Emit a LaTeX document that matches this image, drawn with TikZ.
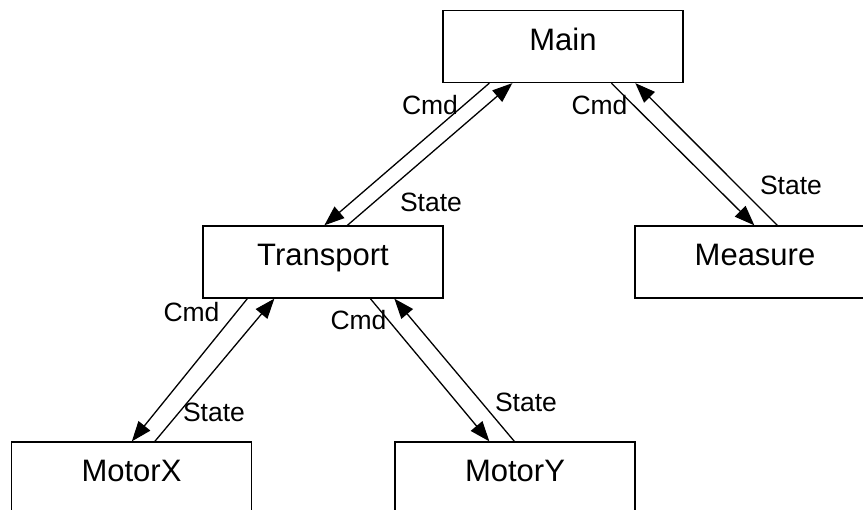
\documentclass[tikz,border=0pt]{standalone}
\usepackage{fontspec}
\setmainfont{Liberation Sans}
\usetikzlibrary{arrows.meta}
\begin{document}
\begin{tikzpicture}[x=1pt,y=-1pt,
  box/.style={draw,line width=1.3pt,rectangle,minimum width=240pt,minimum height=72pt,
    inner sep=0pt,text height=22pt,text depth=14pt,font=\fontsize{31}{31}\selectfont},
  lbl/.style={anchor=base,inner sep=0pt,font=\fontsize{26.5}{26.5}\selectfont},
  conn/.style={line width=1.3pt,-{Triangle[length=20pt,width=15pt]}}]
\useasboundingbox (0,0) rectangle (863,510);
\node[box] (main) at (563,46.5) {Main};
\node[box] (transport) at (323,262) {Transport};
\node[box] (measure) at (755,262) {Measure};
\node[box] (motorx) at (131.5,478) {MotorX};
\node[box] (motory) at (515,478) {MotorY};
% Main - Transport
\draw[conn] ([xshift=47pt]main.south west) -- ([xshift=122pt]transport.north west);
\draw[conn] ([xshift=145pt]transport.north west) -- ([xshift=70pt]main.south west);
% Main - Measure
\draw[conn] ([xshift=169pt]main.south west) -- ([xshift=120pt]measure.north west);
\draw[conn] ([xshift=143pt]measure.north west) -- ([xshift=193pt]main.south west);
% Transport - MotorX
\draw[conn] ([xshift=45pt]transport.south west) -- ([xshift=121pt]motorx.north west);
\draw[conn] ([xshift=144pt]motorx.north west) -- ([xshift=72pt]transport.south west);
% Transport - MotorY
\draw[conn] ([xshift=168pt]transport.south west) -- ([xshift=95pt]motory.north west);
\draw[conn] ([xshift=120pt]motory.north west) -- ([xshift=192pt]transport.south west);
% labels
\node[lbl] (l1) at (430,115) {Cmd};
\node[lbl] (l2) at (431,212) {State};
\node[lbl] (l3) at (599.5,115) {Cmd};
\node[lbl] (l4) at (791,195) {State};
\node[lbl] (l5) at (191.5,322) {Cmd};
\node[lbl] (l6) at (214,422) {State};
\node[lbl] (l7) at (358.5,330) {Cmd};
\node[lbl] (l8) at (526,412) {State};
\end{tikzpicture}
\end{document}
